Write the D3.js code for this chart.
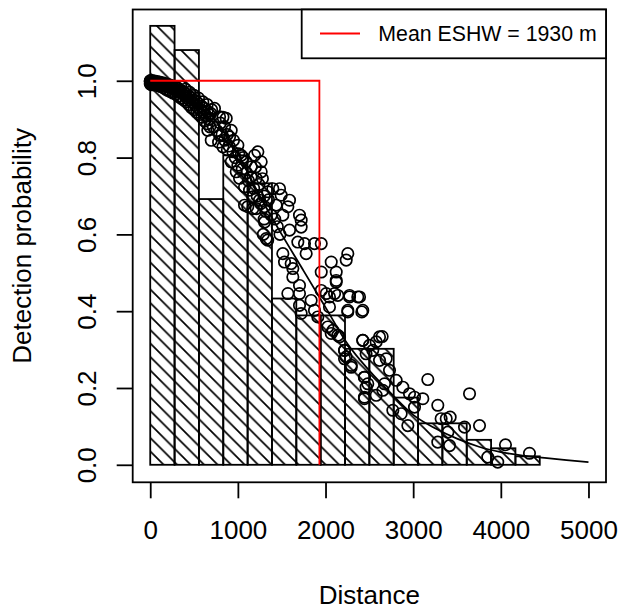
<!DOCTYPE html>
<html>
<head>
<meta charset="utf-8">
<script src="https://cdn.jsdelivr.net/npm/d3@7"></script>
<style>
  html, body { margin: 0; padding: 0; background: #fff; }
  svg { display: block; font-family: "Liberation Sans", Arial, Helvetica, sans-serif; }
</style>
</head>
<body>
<svg id="chart" width="622" height="609"></svg>
<script>
// ---------------- data ----------------
const binBreaks = [0, 277.8, 555.6, 833.3, 1111.1, 1388.9, 1666.7, 1944.4, 2222.2, 2500,
                   2777.8, 3055.6, 3333.3, 3611.1, 3888.9, 4166.7, 4444.4, 4722.2, 5000];
const binHeights = [1.143, 1.080, 0.692, 0.806, 0.733, 0.433, 0.389, 0.389, 0.302, 0.302,
                    0.175, 0.108, 0.108, 0.065, 0.043, 0.022, 0, 0];

const curveDist = [0, 100, 250, 500, 750, 1000, 1250, 1500, 1750, 2000, 2250, 2500, 2750,
                   3000, 3250, 3500, 3750, 4000, 4250, 4500, 4750, 5000];
const curveProb = [1.000, 0.999, 0.993, 0.960, 0.895, 0.810, 0.700, 0.600, 0.505, 0.410, 0.315,
                   0.245, 0.185, 0.130, 0.095, 0.068, 0.047, 0.033, 0.024, 0.018, 0.012, 0.007];

const pointDist = [
  0, 0, 3, 6, 10, 14, 18, 22, 28, 35, 42, 50, 58, 66, 75, 85, 95, 105, 118, 130,
  142, 155, 168, 180, 195, 210, 225, 240, 255, 270, 285, 300, 315, 330, 345, 360, 375, 390, 405, 420,
  435, 450, 465, 480, 495, 510, 525, 540, 555, 570, 585, 600, 615, 630, 650, 670, 690,
  0, 5, 12, 20, 30, 45, 60, 80, 100, 120, 150, 175, 200, 230, 260, 290, 320, 350, 380, 410,
  440, 470, 500, 530, 560, 590, 620, 650, 680, 350, 400, 450, 500, 550, 600, 650, 700,
  733, 676, 657, 696, 791, 867, 848, 924, 905, 791, 829, 1000, 943, 1038, 1095, 1152, 1190, 1228, 1266,
  1266, 1209, 1019, 1076, 1133, 1171, 1247, 1342, 1399, 1475, 1494, 1589, 1703, 1171, 1076, 981, 924,
  720, 760, 800, 820, 850, 880, 900, 950, 970, 1000, 1010, 1050, 1060, 1100, 1120, 1150, 1180, 1200,
  1220, 1240, 1260, 1280, 1300, 1320, 1350, 1380, 1420, 1450, 1480, 780, 830, 880,
  1113, 1209, 1304, 1304, 1323, 1437, 1513, 1570, 1589, 1722, 1722, 1684, 1760, 1874, 1951, 1513, 1608,
  1627, 1779, 1951, 2065, 2122, 2236, 2122, 1570, 1703, 1703, 1703, 1722, 1836, 1874, 1912, 1951, 2008,
  2045, 2140, 2274, 2388, 2425, 2254, 2045, 2026, 2065, 2160, 2217, 2236, 2293, 2425, 2539, 2463, 2444,
  2482, 2444, 2616, 1532, 1627, 1300, 1290, 1340, 2254,
  2122, 2103, 2274, 2368, 2254, 2414, 2084, 2140, 2217, 2217, 2293, 2425, 2502, 2578, 2646, 2616, 2692,
  2730, 2806, 2444, 2463, 2444, 2578, 2654, 2673, 2882, 2958, 3015, 3110, 3167, 2768, 2863, 2939, 3015,
  3281, 3319, 3377, 3422, 3586, 3757, 3643, 3281, 3415, 3396, 3851, 3965, 4053, 4327
];
const pointProb = [
  1.000, 0.998, 1.000, 0.999, 1.000, 0.998, 0.997, 1.000, 0.999, 0.998, 0.996, 0.999, 0.997, 0.995, 0.998, 0.996, 0.993, 0.997, 0.994, 0.991,
  0.995, 0.990, 0.993, 0.988, 0.991, 0.985, 0.989, 0.983, 0.986, 0.980, 0.984, 0.977, 0.981, 0.972, 0.976, 0.968, 0.972, 0.962, 0.967, 0.955,
  0.961, 0.950, 0.956, 0.944, 0.950, 0.938, 0.946, 0.930, 0.940, 0.925, 0.934, 0.918, 0.928, 0.910, 0.921, 0.900, 0.915,
  0.992, 0.994, 0.990, 0.993, 0.990, 0.991, 0.989, 0.990, 0.987, 0.985, 0.982, 0.978, 0.975, 0.972, 0.968, 0.965, 0.960, 0.955, 0.950, 0.945,
  0.938, 0.930, 0.925, 0.918, 0.912, 0.905, 0.895, 0.888, 0.880, 0.985, 0.978, 0.970, 0.962, 0.955, 0.945, 0.938, 0.925,
  0.928, 0.911, 0.871, 0.845, 0.906, 0.902, 0.880, 0.871, 0.854, 0.858, 0.828, 0.832, 0.815, 0.806, 0.789, 0.776, 0.806, 0.815, 0.789,
  0.763, 0.746, 0.746, 0.724, 0.715, 0.698, 0.689, 0.711, 0.719, 0.719, 0.702, 0.689, 0.650, 0.667, 0.676, 0.763, 0.789,
  0.880, 0.870, 0.890, 0.860, 0.845, 0.860, 0.830, 0.845, 0.800, 0.780, 0.810, 0.770, 0.800, 0.760, 0.740, 0.750, 0.720, 0.775,
  0.700, 0.730, 0.680, 0.745, 0.700, 0.660, 0.690, 0.650, 0.640, 0.620, 0.600, 0.840, 0.905, 0.820,
  0.672, 0.667, 0.672, 0.632, 0.589, 0.676, 0.650, 0.672, 0.611, 0.637, 0.619, 0.580, 0.576, 0.576, 0.576, 0.550, 0.524,
  0.511, 0.550, 0.502, 0.528, 0.502, 0.533, 0.480, 0.446, 0.467, 0.446, 0.415, 0.394, 0.428, 0.402, 0.385, 0.454, 0.446,
  0.437, 0.441, 0.437, 0.437, 0.402, 0.402, 0.411, 0.359, 0.342, 0.333, 0.298, 0.281, 0.259, 0.324, 0.298, 0.289, 0.228,
  0.211, 0.176, 0.333, 0.528, 0.489, 0.640, 0.600, 0.585, 0.550,
  0.476, 0.446, 0.441, 0.437, 0.398, 0.398, 0.350, 0.337, 0.298, 0.276, 0.254, 0.324, 0.311, 0.320, 0.334, 0.272, 0.276,
  0.246, 0.220, 0.228, 0.202, 0.172, 0.181, 0.194, 0.211, 0.202, 0.185, 0.176, 0.172, 0.222, 0.142, 0.133, 0.102, 0.150,
  0.155, 0.120, 0.120, 0.124, 0.098, 0.102, 0.185, 0.059, 0.050, 0.085, 0.020, 0.007, 0.052, 0.030
];

const eshw = 1930;
const legendLabel = "Mean ESHW = 1930 m";
const xTicks = [0, 1000, 2000, 3000, 4000, 5000];
const yTicks = [0, 0.2, 0.4, 0.6, 0.8, 1.0];
const yTickLabels = ["0.0", "0.2", "0.4", "0.6", "0.8", "1.0"];
const xTitle = "Distance";
const yTitle = "Detection probability";

// ---------------- layout ----------------
const svg = d3.select("#chart");
const L = 132.7, R = 606, T = 9.5, B = 482.3;
const x = d3.scaleLinear().domain([-200, 5200]).range([L, R]);
const y = d3.scaleLinear().domain([-0.0456, 1.1856]).range([B, T]);
const fs = 26;
const lw = 1.8;

// hatch pattern
const defs = svg.append("defs");
const s = 13.5;
const pat = defs.append("pattern")
  .attr("id", "hatch")
  .attr("patternUnits", "userSpaceOnUse")
  .attr("width", s).attr("height", s)
  .attr("x", x(0)).attr("y", y(0));
pat.append("path")
  .attr("d", `M0,0 L${s},${s} M${-s/2},${s/2} L${s/2},${s*1.5} M${s/2},${-s/2} L${s*1.5},${s/2}`)
  .attr("stroke", "#000").attr("stroke-width", 1.7).attr("fill", "none");

// histogram
const bars = binHeights.map((h, i) => ({ x0: binBreaks[i], x1: binBreaks[i + 1], h }));
svg.append("g").selectAll("rect").data(bars).join("rect")
  .attr("x", d => x(d.x0))
  .attr("y", d => y(d.h))
  .attr("width", d => x(d.x1) - x(d.x0))
  .attr("height", d => Math.max(0, y(0) - y(d.h)))
  .attr("fill", "url(#hatch)")
  .attr("stroke", "#000")
  .attr("stroke-width", lw);

// fitted line
const lineGen = d3.line()
  .x((d, i) => x(curveDist[i]))
  .y((d, i) => y(curveProb[i]))
  .curve(d3.curveMonotoneX);
svg.append("path")
  .attr("d", lineGen(curveDist))
  .attr("fill", "none").attr("stroke", "#000").attr("stroke-width", lw);

// points
svg.append("g").selectAll("circle").data(pointDist).join("circle")
  .attr("cx", (d, i) => x(pointDist[i]))
  .attr("cy", (d, i) => y(pointProb[i]))
  .attr("r", 5.7)
  .attr("fill", "none").attr("stroke", "#000").attr("stroke-width", 1.7);

// ESHW red line
svg.append("path")
  .attr("d", `M${x(0)},${y(1)} L${x(eshw)},${y(1)} L${x(eshw)},${y(0)}`)
  .attr("fill", "none").attr("stroke", "#ff0000").attr("stroke-width", lw);

// box
svg.append("rect")
  .attr("x", L).attr("y", T).attr("width", R - L).attr("height", B - T)
  .attr("fill", "none").attr("stroke", "#000").attr("stroke-width", lw);

// x axis
const xAxis = d3.axisBottom(x).tickValues(xTicks).tickSize(16).tickFormat(d3.format("d"));
const gx = svg.append("g").attr("transform", `translate(0,${B})`).call(xAxis);
gx.select(".domain").remove();
gx.selectAll(".tick line").attr("stroke", "#000").attr("stroke-width", lw);
gx.selectAll(".tick text")
  .attr("y", 57).attr("dy", 0)
  .attr("font-size", fs).attr("font-family", "Liberation Sans, Arial, sans-serif")
  .attr("fill", "#000");

// y axis
const yAxis = d3.axisLeft(y).tickValues(yTicks).tickSize(16).tickFormat((d, i) => yTickLabels[i]);
const gy = svg.append("g").attr("transform", `translate(${L},0)`).call(yAxis);
gy.select(".domain").remove();
gy.selectAll(".tick line").attr("stroke", "#000").attr("stroke-width", lw);
gy.selectAll(".tick text")
  .attr("x", 0).attr("dy", 0)
  .attr("text-anchor", "middle")
  .attr("transform", "translate(-37,0) rotate(-90)")
  .attr("font-size", fs).attr("font-family", "Liberation Sans, Arial, sans-serif")
  .attr("fill", "#000");

// titles
svg.append("text")
  .attr("x", (L + R) / 2).attr("y", 603.5)
  .attr("text-anchor", "middle").attr("font-size", fs)
  .text(xTitle);
svg.append("text")
  .attr("transform", `translate(30.5,${(T + B) / 2}) rotate(-90)`)
  .attr("text-anchor", "middle").attr("font-size", fs)
  .text(yTitle);

// legend
const lg = svg.append("g");
lg.append("rect")
  .attr("x", 301.7).attr("y", T).attr("width", R - 301.7).attr("height", 58.3 - T)
  .attr("fill", "#fff").attr("stroke", "#000").attr("stroke-width", lw);
lg.append("line")
  .attr("x1", 320).attr("x2", 360).attr("y1", 33.5).attr("y2", 33.5)
  .attr("stroke", "#ff0000").attr("stroke-width", lw);
lg.append("text")
  .attr("x", 378.3).attr("y", 41.3)
  .attr("font-size", 21.3)
  .text(legendLabel);
</script>
</body>
</html>
